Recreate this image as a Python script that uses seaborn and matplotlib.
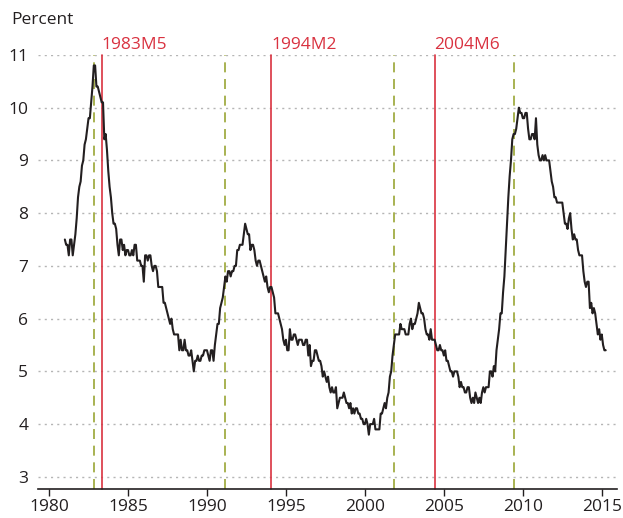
import numpy as np
import pandas as pd
import matplotlib
matplotlib.use("Agg")
import matplotlib.pyplot as plt
import seaborn as sns

# Monthly unemployment rate, percent, 1981M1 .. 2015M4
rate_1981 = [7.5, 7.4, 7.4, 7.2, 7.5, 7.5, 7.2, 7.4, 7.6, 7.9, 8.3, 8.5]
rate_1982 = [8.6, 8.9, 9.0, 9.3, 9.4, 9.6, 9.8, 9.8, 10.1, 10.4, 10.8, 10.8]
rate_1983 = [10.4, 10.4, 10.3, 10.2, 10.1, 10.1, 9.4, 9.5, 9.2, 8.8, 8.5, 8.3]
rate_1984 = [8.0, 7.8, 7.8, 7.7, 7.4, 7.2, 7.5, 7.5, 7.3, 7.4, 7.2, 7.3]
rate_1985 = [7.3, 7.2, 7.2, 7.3, 7.2, 7.4, 7.4, 7.1, 7.1, 7.1, 7.0, 7.0]
rate_1986 = [6.7, 7.2, 7.2, 7.1, 7.2, 7.2, 7.0, 6.9, 7.0, 7.0, 6.9, 6.6]
rate_1987 = [6.6, 6.6, 6.6, 6.3, 6.3, 6.2, 6.1, 6.0, 5.9, 6.0, 5.8, 5.7]
rate_1988 = [5.7, 5.7, 5.7, 5.4, 5.6, 5.4, 5.4, 5.6, 5.4, 5.4, 5.3, 5.3]
rate_1989 = [5.4, 5.2, 5.0, 5.2, 5.2, 5.3, 5.2, 5.2, 5.3, 5.3, 5.4, 5.4]
rate_1990 = [5.4, 5.3, 5.2, 5.4, 5.4, 5.2, 5.5, 5.7, 5.9, 5.9, 6.2, 6.3]
rate_1991 = [6.4, 6.6, 6.8, 6.7, 6.9, 6.9, 6.8, 6.9, 6.9, 7.0, 7.0, 7.3]
rate_1992 = [7.3, 7.4, 7.4, 7.4, 7.6, 7.8, 7.7, 7.6, 7.6, 7.3, 7.4, 7.4]
rate_1993 = [7.3, 7.1, 7.0, 7.1, 7.1, 7.0, 6.9, 6.8, 6.7, 6.8, 6.6, 6.5]
rate_1994 = [6.6, 6.6, 6.5, 6.4, 6.1, 6.1, 6.1, 6.0, 5.9, 5.8, 5.6, 5.5]
rate_1995 = [5.6, 5.4, 5.4, 5.8, 5.6, 5.6, 5.7, 5.7, 5.6, 5.5, 5.6, 5.6]
rate_1996 = [5.6, 5.5, 5.5, 5.6, 5.6, 5.3, 5.5, 5.1, 5.2, 5.2, 5.4, 5.4]
rate_1997 = [5.3, 5.2, 5.2, 5.1, 4.9, 5.0, 4.9, 4.8, 4.9, 4.7, 4.6, 4.7]
rate_1998 = [4.6, 4.6, 4.7, 4.3, 4.4, 4.5, 4.5, 4.5, 4.6, 4.5, 4.4, 4.4]
rate_1999 = [4.3, 4.4, 4.2, 4.3, 4.2, 4.3, 4.3, 4.2, 4.2, 4.1, 4.1, 4.0]
rate_2000 = [4.0, 4.1, 4.0, 3.8, 4.0, 4.0, 4.0, 4.1, 3.9, 3.9, 3.9, 3.9]
rate_2001 = [4.2, 4.2, 4.3, 4.4, 4.3, 4.5, 4.6, 4.9, 5.0, 5.3, 5.5, 5.7]
rate_2002 = [5.7, 5.7, 5.7, 5.9, 5.8, 5.8, 5.8, 5.7, 5.7, 5.7, 5.9, 6.0]
rate_2003 = [5.8, 5.9, 5.9, 6.0, 6.1, 6.3, 6.2, 6.1, 6.1, 6.0, 5.8, 5.7]
rate_2004 = [5.7, 5.6, 5.8, 5.6, 5.6, 5.6, 5.5, 5.4, 5.4, 5.5, 5.4, 5.4]
rate_2005 = [5.3, 5.4, 5.2, 5.2, 5.1, 5.0, 5.0, 4.9, 5.0, 5.0, 5.0, 4.9]
rate_2006 = [4.7, 4.8, 4.7, 4.7, 4.6, 4.6, 4.7, 4.7, 4.5, 4.4, 4.5, 4.4]
rate_2007 = [4.6, 4.5, 4.4, 4.5, 4.4, 4.6, 4.7, 4.6, 4.7, 4.7, 4.7, 5.0]
rate_2008 = [5.0, 4.9, 5.1, 5.0, 5.4, 5.6, 5.8, 6.1, 6.1, 6.5, 6.8, 7.3]
rate_2009 = [7.8, 8.3, 8.7, 9.0, 9.4, 9.5, 9.5, 9.6, 9.8, 10.0, 9.9, 9.9]
rate_2010 = [9.8, 9.8, 9.9, 9.9, 9.6, 9.4, 9.4, 9.5, 9.5, 9.4, 9.8, 9.3]
rate_2011 = [9.1, 9.0, 9.0, 9.1, 9.0, 9.1, 9.0, 9.0, 9.0, 8.8, 8.6, 8.5]
rate_2012 = [8.3, 8.3, 8.2, 8.2, 8.2, 8.2, 8.2, 8.0, 7.8, 7.8, 7.7, 7.9]
rate_2013 = [8.0, 7.7, 7.5, 7.6, 7.5, 7.5, 7.3, 7.2, 7.2, 7.2, 6.9, 6.7]
rate_2014 = [6.6, 6.7, 6.7, 6.2, 6.3, 6.1, 6.2, 6.1, 5.9, 5.7, 5.8, 5.6]
rate_2015 = [5.7, 5.5, 5.4, 5.4]

start_year = 1981

# Policy dates (red) and recession troughs (green dashed), in decimal years
event_labels = ["1983M5", "1994M2", "2004M6"]
event_dates = [1983 + 4 / 12, 1994 + 1 / 12, 2004 + 5 / 12]
trough_dates = [1982 + 10 / 12, 1991 + 2 / 12, 2001 + 10 / 12, 2009 + 5 / 12]

x_ticks = [1980, 1985, 1990, 1995, 2000, 2005, 2010, 2015]
y_ticks = [3, 4, 5, 6, 7, 8, 9, 10, 11]

rates = (rate_1981 + rate_1982 + rate_1983 + rate_1984 + rate_1985 + rate_1986
         + rate_1987 + rate_1988 + rate_1989 + rate_1990 + rate_1991 + rate_1992
         + rate_1993 + rate_1994 + rate_1995 + rate_1996 + rate_1997 + rate_1998
         + rate_1999 + rate_2000 + rate_2001 + rate_2002 + rate_2003 + rate_2004
         + rate_2005 + rate_2006 + rate_2007 + rate_2008 + rate_2009 + rate_2010
         + rate_2011 + rate_2012 + rate_2013 + rate_2014 + rate_2015)
df = pd.DataFrame({"date": start_year + np.arange(len(rates)) / 12.0,
                   "rate": rates})

sns.set_theme(style="white")
plt.rcParams["font.family"] = ["Open Sans", "DejaVu Sans"]

fig = plt.figure(figsize=(6.23, 5.18), dpi=100)
ax = fig.add_axes([0.061, 0.056, 0.929, 0.838])

fs = 12.5
ymin, ymax = 2.77, 11.0
for y in y_ticks:
    ax.axhline(y, color="#b5b5b5", lw=1.0, ls=(0, (1.5, 3)), zorder=0)

red = "#d93240"
green = "#9aa535"
for d in trough_dates:
    ax.plot([d, d], [ymin, ymax], color=green, lw=1.2, ls=(0, (6, 4)),
            zorder=1, clip_on=False)
for d, lab in zip(event_dates, event_labels):
    ax.plot([d, d], [ymin, ymax], color=red, lw=1.2, zorder=1, clip_on=False)
    ax.text(d - 0.02, ymax + 0.04, lab, color=red, fontsize=fs,
            ha="left", va="bottom")

sns.lineplot(data=df, x="date", y="rate", ax=ax, color="#231f20",
             lw=1.5, zorder=3)

ax.set_xlim(1979.3, 2015.95)
ax.set_ylim(ymin, ymax)
ax.set_xticks(x_ticks)
ax.set_yticks(y_ticks)
ax.set_xlabel("")
ax.set_ylabel("")
for s in ["left", "right", "top"]:
    ax.spines[s].set_visible(False)
ax.spines["bottom"].set_color("#231f20")
ax.spines["bottom"].set_linewidth(1.2)
ax.tick_params(axis="x", length=5, width=1.0, color="#231f20",
               labelsize=fs, labelcolor="#231f20", pad=2, bottom=True)
ax.tick_params(axis="y", length=0, labelsize=fs, labelcolor="#231f20", pad=7)

fig.text(11 / 623, 1 - 20 / 518, "Percent", fontsize=fs, color="#231f20",
         ha="left", va="center")

fig.savefig("out.png", dpi=100)
